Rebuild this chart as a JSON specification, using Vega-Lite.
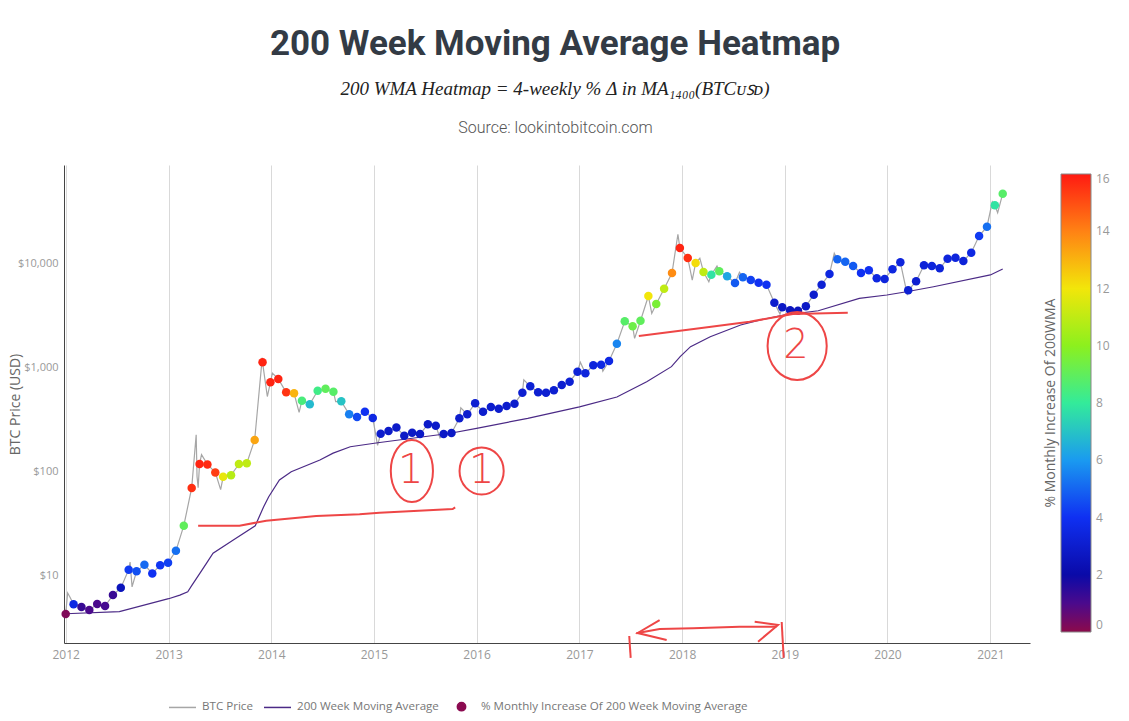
{
  "$schema": "https://vega.github.io/schema/vega-lite/v6.json",
  "width": 966,
  "height": 478,
  "autosize": {"type": "none"},
  "padding": {"left": 64, "top": 165, "right": 99, "bottom": 78},
  "background": "#ffffff",
  "title": {
    "text": "200 Week Moving Average Heatmap",
    "subtitle": "200 WMA Heatmap = 4-weekly % Δ in MA₁₄₀₀(BTCᴜꜱᴅ)",
    "anchor": "middle",
    "frame": "group",
    "dx": 8,
    "font": "Roboto",
    "fontSize": 35,
    "fontWeight": "bold",
    "color": "#333b45",
    "subtitleFont": "Liberation Serif",
    "subtitleFontSize": 19,
    "subtitleFontStyle": "italic",
    "subtitleColor": "#222222",
    "subtitlePadding": 18,
    "offset": 20
  },
  "config": {
    "view": {"stroke": null},
    "font": "Open Sans",
    "axis": {"labelFont": "Open Sans", "titleFont": "Open Sans"},
    "legend": {"labelFont": "Open Sans", "titleFont": "Open Sans"}
  },
  "resolve": {"axis": {"x": "independent", "y": "independent"}},
  "datasets": {
    "points": [
      {"date":"2012-01-01","price":4.28,"pct":0.2},
      {"date":"2012-01-29","price":5.30,"pct":3.6},
      {"date":"2012-02-26","price":4.99,"pct":1.3},
      {"date":"2012-03-25","price":4.67,"pct":1.0},
      {"date":"2012-04-22","price":5.34,"pct":1.0},
      {"date":"2012-05-20","price":5.10,"pct":1.1},
      {"date":"2012-06-17","price":6.51,"pct":1.3},
      {"date":"2012-07-15","price":7.65,"pct":2.5},
      {"date":"2012-08-12","price":11.4,"pct":4.2},
      {"date":"2012-09-09","price":11.0,"pct":4.6},
      {"date":"2012-10-07","price":12.7,"pct":5.1},
      {"date":"2012-11-04","price":10.5,"pct":4.0},
      {"date":"2012-12-02","price":12.6,"pct":4.1},
      {"date":"2012-12-30","price":13.3,"pct":4.3},
      {"date":"2013-01-27","price":17.3,"pct":5.2},
      {"date":"2013-02-24","price":30.2,"pct":9.0},
      {"date":"2013-03-24","price":69.5,"pct":15.6},
      {"date":"2013-04-21","price":118,"pct":15.8},
      {"date":"2013-05-19","price":117,"pct":15.7},
      {"date":"2013-06-16","price":98,"pct":15.3},
      {"date":"2013-07-14","price":89,"pct":11.8},
      {"date":"2013-08-11","price":92,"pct":10.8},
      {"date":"2013-09-08","price":118,"pct":11.0},
      {"date":"2013-10-06","price":120,"pct":11.0},
      {"date":"2013-11-03","price":201,"pct":13.3},
      {"date":"2013-12-01","price":1119,"pct":15.8},
      {"date":"2013-12-29","price":719,"pct":15.8},
      {"date":"2014-01-26","price":774,"pct":15.8},
      {"date":"2014-02-23","price":576,"pct":15.5},
      {"date":"2014-03-23","price":564,"pct":13.0},
      {"date":"2014-04-20","price":479,"pct":8.5},
      {"date":"2014-05-18","price":442,"pct":6.8},
      {"date":"2014-06-15","price":597,"pct":8.3},
      {"date":"2014-07-13","price":624,"pct":9.0},
      {"date":"2014-08-10","price":584,"pct":8.8},
      {"date":"2014-09-07","price":472,"pct":7.0},
      {"date":"2014-10-05","price":354,"pct":5.5},
      {"date":"2014-11-02","price":334,"pct":4.5},
      {"date":"2014-11-30","price":375,"pct":4.0},
      {"date":"2014-12-28","price":327,"pct":3.6},
      {"date":"2015-01-25","price":231,"pct":3.0},
      {"date":"2015-02-22","price":245,"pct":2.9},
      {"date":"2015-03-22","price":264,"pct":2.9},
      {"date":"2015-04-19","price":221,"pct":2.8},
      {"date":"2015-05-17","price":236,"pct":2.8},
      {"date":"2015-06-14","price":229,"pct":2.8},
      {"date":"2015-07-12","price":284,"pct":2.9},
      {"date":"2015-08-09","price":275,"pct":2.9},
      {"date":"2015-09-06","price":229,"pct":2.8},
      {"date":"2015-10-04","price":234,"pct":2.8},
      {"date":"2015-11-01","price":324,"pct":3.0},
      {"date":"2015-11-29","price":354,"pct":3.0},
      {"date":"2015-12-27","price":452,"pct":3.1},
      {"date":"2016-01-24","price":375,"pct":3.0},
      {"date":"2016-02-21","price":417,"pct":3.0},
      {"date":"2016-03-20","price":401,"pct":3.0},
      {"date":"2016-04-17","price":426,"pct":3.0},
      {"date":"2016-05-15","price":448,"pct":3.0},
      {"date":"2016-06-12","price":571,"pct":3.1},
      {"date":"2016-07-10","price":658,"pct":3.2},
      {"date":"2016-08-07","price":576,"pct":3.1},
      {"date":"2016-09-04","price":571,"pct":3.1},
      {"date":"2016-10-02","price":603,"pct":3.1},
      {"date":"2016-10-30","price":677,"pct":3.1},
      {"date":"2016-11-27","price":729,"pct":3.2},
      {"date":"2016-12-25","price":909,"pct":3.3},
      {"date":"2017-01-22","price":877,"pct":3.4},
      {"date":"2017-02-19","price":1048,"pct":3.4},
      {"date":"2017-03-19","price":1062,"pct":3.6},
      {"date":"2017-04-16","price":1152,"pct":3.6},
      {"date":"2017-05-14","price":1690,"pct":5.6},
      {"date":"2017-06-11","price":2772,"pct":8.8},
      {"date":"2017-07-09","price":2483,"pct":9.3},
      {"date":"2017-08-06","price":2810,"pct":9.0},
      {"date":"2017-09-03","price":4852,"pct":12.0},
      {"date":"2017-10-01","price":4064,"pct":9.6},
      {"date":"2017-10-29","price":5702,"pct":11.0},
      {"date":"2017-11-26","price":8070,"pct":13.8},
      {"date":"2017-12-24","price":14030,"pct":15.8},
      {"date":"2018-01-21","price":11250,"pct":15.6},
      {"date":"2018-02-18","price":10070,"pct":12.2},
      {"date":"2018-03-18","price":8250,"pct":11.0},
      {"date":"2018-04-15","price":7770,"pct":7.8},
      {"date":"2018-05-13","price":8380,"pct":9.0},
      {"date":"2018-06-10","price":7500,"pct":6.3},
      {"date":"2018-07-08","price":6470,"pct":4.8},
      {"date":"2018-08-05","price":7340,"pct":5.0},
      {"date":"2018-09-02","price":6910,"pct":4.3},
      {"date":"2018-09-30","price":6510,"pct":4.0},
      {"date":"2018-10-28","price":6230,"pct":4.0},
      {"date":"2018-11-25","price":4185,"pct":3.0},
      {"date":"2018-12-23","price":3780,"pct":2.8},
      {"date":"2019-01-20","price":3536,"pct":2.6},
      {"date":"2019-02-17","price":3505,"pct":2.6},
      {"date":"2019-03-17","price":3864,"pct":2.8},
      {"date":"2019-04-14","price":4994,"pct":3.0},
      {"date":"2019-05-12","price":6230,"pct":3.2},
      {"date":"2019-06-09","price":7890,"pct":3.5},
      {"date":"2019-07-07","price":10930,"pct":5.0},
      {"date":"2019-08-04","price":10360,"pct":5.0},
      {"date":"2019-09-01","price":9420,"pct":4.8},
      {"date":"2019-09-29","price":8070,"pct":4.0},
      {"date":"2019-10-27","price":8570,"pct":4.0},
      {"date":"2019-11-24","price":7180,"pct":3.5},
      {"date":"2019-12-22","price":7070,"pct":3.4},
      {"date":"2020-01-19","price":8750,"pct":3.5},
      {"date":"2020-02-16","price":10220,"pct":3.4},
      {"date":"2020-03-15","price":5505,"pct":3.2},
      {"date":"2020-04-12","price":6715,"pct":3.1},
      {"date":"2020-05-10","price":9570,"pct":3.3},
      {"date":"2020-06-07","price":9420,"pct":3.4},
      {"date":"2020-07-05","price":8950,"pct":3.3},
      {"date":"2020-08-02","price":11070,"pct":3.4},
      {"date":"2020-08-30","price":11320,"pct":3.4},
      {"date":"2020-09-27","price":10520,"pct":3.3},
      {"date":"2020-10-25","price":12640,"pct":3.6},
      {"date":"2020-11-22","price":18290,"pct":4.2},
      {"date":"2020-12-20","price":22480,"pct":5.2},
      {"date":"2021-01-17","price":36080,"pct":7.8},
      {"date":"2021-02-14","price":46630,"pct":8.8}
    ],
    "lines": [
      {"series":"BTC Price","date":"2012-01-01","price":4.3},
      {"series":"BTC Price","date":"2012-01-08","price":6.8},
      {"series":"BTC Price","date":"2012-01-15","price":6.3},
      {"series":"BTC Price","date":"2012-01-29","price":5.3},
      {"series":"BTC Price","date":"2012-02-26","price":5.0},
      {"series":"BTC Price","date":"2012-03-25","price":4.7},
      {"series":"BTC Price","date":"2012-04-22","price":5.3},
      {"series":"BTC Price","date":"2012-05-20","price":5.1},
      {"series":"BTC Price","date":"2012-06-17","price":6.5},
      {"series":"BTC Price","date":"2012-07-15","price":7.6},
      {"series":"BTC Price","date":"2012-08-12","price":11.4},
      {"series":"BTC Price","date":"2012-08-17","price":13.5},
      {"series":"BTC Price","date":"2012-08-24","price":7.8},
      {"series":"BTC Price","date":"2012-09-09","price":11.0},
      {"series":"BTC Price","date":"2012-10-07","price":12.7},
      {"series":"BTC Price","date":"2012-11-04","price":10.5},
      {"series":"BTC Price","date":"2012-12-02","price":12.6},
      {"series":"BTC Price","date":"2012-12-30","price":13.3},
      {"series":"BTC Price","date":"2013-01-27","price":17.3},
      {"series":"BTC Price","date":"2013-02-24","price":30.2},
      {"series":"BTC Price","date":"2013-03-24","price":69.5},
      {"series":"BTC Price","date":"2013-04-09","price":225},
      {"series":"BTC Price","date":"2013-04-12","price":90},
      {"series":"BTC Price","date":"2013-04-16","price":70},
      {"series":"BTC Price","date":"2013-04-21","price":118},
      {"series":"BTC Price","date":"2013-04-28","price":145},
      {"series":"BTC Price","date":"2013-05-19","price":117},
      {"series":"BTC Price","date":"2013-06-16","price":98},
      {"series":"BTC Price","date":"2013-07-05","price":67},
      {"series":"BTC Price","date":"2013-07-14","price":89},
      {"series":"BTC Price","date":"2013-08-11","price":92},
      {"series":"BTC Price","date":"2013-09-08","price":118},
      {"series":"BTC Price","date":"2013-10-06","price":120},
      {"series":"BTC Price","date":"2013-11-03","price":201},
      {"series":"BTC Price","date":"2013-11-30","price":1240},
      {"series":"BTC Price","date":"2013-12-01","price":1119},
      {"series":"BTC Price","date":"2013-12-18","price":525},
      {"series":"BTC Price","date":"2013-12-29","price":719},
      {"series":"BTC Price","date":"2014-01-05","price":880},
      {"series":"BTC Price","date":"2014-01-26","price":774},
      {"series":"BTC Price","date":"2014-02-23","price":576},
      {"series":"BTC Price","date":"2014-03-23","price":564},
      {"series":"BTC Price","date":"2014-04-10","price":370},
      {"series":"BTC Price","date":"2014-04-20","price":479},
      {"series":"BTC Price","date":"2014-05-18","price":442},
      {"series":"BTC Price","date":"2014-06-15","price":597},
      {"series":"BTC Price","date":"2014-07-13","price":624},
      {"series":"BTC Price","date":"2014-08-10","price":584},
      {"series":"BTC Price","date":"2014-08-18","price":470},
      {"series":"BTC Price","date":"2014-09-07","price":472},
      {"series":"BTC Price","date":"2014-10-05","price":354},
      {"series":"BTC Price","date":"2014-11-02","price":334},
      {"series":"BTC Price","date":"2014-11-30","price":375},
      {"series":"BTC Price","date":"2014-12-28","price":327},
      {"series":"BTC Price","date":"2015-01-14","price":178},
      {"series":"BTC Price","date":"2015-01-25","price":231},
      {"series":"BTC Price","date":"2015-02-22","price":245},
      {"series":"BTC Price","date":"2015-03-22","price":264},
      {"series":"BTC Price","date":"2015-04-19","price":221},
      {"series":"BTC Price","date":"2015-05-17","price":236},
      {"series":"BTC Price","date":"2015-06-14","price":229},
      {"series":"BTC Price","date":"2015-07-12","price":284},
      {"series":"BTC Price","date":"2015-08-09","price":275},
      {"series":"BTC Price","date":"2015-08-24","price":210},
      {"series":"BTC Price","date":"2015-09-06","price":229},
      {"series":"BTC Price","date":"2015-10-04","price":234},
      {"series":"BTC Price","date":"2015-11-01","price":324},
      {"series":"BTC Price","date":"2015-11-06","price":410},
      {"series":"BTC Price","date":"2015-11-29","price":354},
      {"series":"BTC Price","date":"2015-12-27","price":452},
      {"series":"BTC Price","date":"2016-01-24","price":375},
      {"series":"BTC Price","date":"2016-02-21","price":417},
      {"series":"BTC Price","date":"2016-03-20","price":401},
      {"series":"BTC Price","date":"2016-04-17","price":426},
      {"series":"BTC Price","date":"2016-05-15","price":448},
      {"series":"BTC Price","date":"2016-06-12","price":571},
      {"series":"BTC Price","date":"2016-06-17","price":760},
      {"series":"BTC Price","date":"2016-07-10","price":658},
      {"series":"BTC Price","date":"2016-08-07","price":576},
      {"series":"BTC Price","date":"2016-09-04","price":571},
      {"series":"BTC Price","date":"2016-10-02","price":603},
      {"series":"BTC Price","date":"2016-10-30","price":677},
      {"series":"BTC Price","date":"2016-11-27","price":729},
      {"series":"BTC Price","date":"2016-12-25","price":909},
      {"series":"BTC Price","date":"2017-01-04","price":1120},
      {"series":"BTC Price","date":"2017-01-22","price":877},
      {"series":"BTC Price","date":"2017-02-19","price":1048},
      {"series":"BTC Price","date":"2017-03-19","price":1062},
      {"series":"BTC Price","date":"2017-03-25","price":920},
      {"series":"BTC Price","date":"2017-04-16","price":1152},
      {"series":"BTC Price","date":"2017-05-14","price":1690},
      {"series":"BTC Price","date":"2017-06-11","price":2772},
      {"series":"BTC Price","date":"2017-07-09","price":2483},
      {"series":"BTC Price","date":"2017-07-16","price":1900},
      {"series":"BTC Price","date":"2017-08-06","price":2810},
      {"series":"BTC Price","date":"2017-09-03","price":4852},
      {"series":"BTC Price","date":"2017-09-15","price":3300},
      {"series":"BTC Price","date":"2017-10-01","price":4064},
      {"series":"BTC Price","date":"2017-10-29","price":5702},
      {"series":"BTC Price","date":"2017-11-26","price":8070},
      {"series":"BTC Price","date":"2017-12-17","price":19000},
      {"series":"BTC Price","date":"2017-12-24","price":14030},
      {"series":"BTC Price","date":"2018-01-21","price":11250},
      {"series":"BTC Price","date":"2018-02-06","price":6900},
      {"series":"BTC Price","date":"2018-02-18","price":10070},
      {"series":"BTC Price","date":"2018-03-05","price":11200},
      {"series":"BTC Price","date":"2018-03-18","price":8250},
      {"series":"BTC Price","date":"2018-04-06","price":6640},
      {"series":"BTC Price","date":"2018-04-15","price":7770},
      {"series":"BTC Price","date":"2018-05-05","price":9400},
      {"series":"BTC Price","date":"2018-05-13","price":8380},
      {"series":"BTC Price","date":"2018-06-10","price":7500},
      {"series":"BTC Price","date":"2018-07-08","price":6470},
      {"series":"BTC Price","date":"2018-07-24","price":8200},
      {"series":"BTC Price","date":"2018-08-05","price":7340},
      {"series":"BTC Price","date":"2018-09-02","price":6910},
      {"series":"BTC Price","date":"2018-09-30","price":6510},
      {"series":"BTC Price","date":"2018-10-28","price":6230},
      {"series":"BTC Price","date":"2018-11-25","price":4185},
      {"series":"BTC Price","date":"2018-12-15","price":3250},
      {"series":"BTC Price","date":"2018-12-23","price":3780},
      {"series":"BTC Price","date":"2019-01-20","price":3536},
      {"series":"BTC Price","date":"2019-02-17","price":3505},
      {"series":"BTC Price","date":"2019-03-17","price":3864},
      {"series":"BTC Price","date":"2019-04-14","price":4994},
      {"series":"BTC Price","date":"2019-05-12","price":6230},
      {"series":"BTC Price","date":"2019-06-09","price":7890},
      {"series":"BTC Price","date":"2019-06-26","price":12480},
      {"series":"BTC Price","date":"2019-07-07","price":10930},
      {"series":"BTC Price","date":"2019-08-04","price":10360},
      {"series":"BTC Price","date":"2019-09-01","price":9420},
      {"series":"BTC Price","date":"2019-09-29","price":8070},
      {"series":"BTC Price","date":"2019-10-27","price":8570},
      {"series":"BTC Price","date":"2019-11-24","price":7180},
      {"series":"BTC Price","date":"2019-12-22","price":7070},
      {"series":"BTC Price","date":"2020-01-19","price":8750},
      {"series":"BTC Price","date":"2020-02-16","price":10220},
      {"series":"BTC Price","date":"2020-03-12","price":4950},
      {"series":"BTC Price","date":"2020-03-15","price":5505},
      {"series":"BTC Price","date":"2020-04-12","price":6715},
      {"series":"BTC Price","date":"2020-05-10","price":9570},
      {"series":"BTC Price","date":"2020-06-07","price":9420},
      {"series":"BTC Price","date":"2020-07-05","price":8950},
      {"series":"BTC Price","date":"2020-08-02","price":11070},
      {"series":"BTC Price","date":"2020-08-30","price":11320},
      {"series":"BTC Price","date":"2020-09-27","price":10520},
      {"series":"BTC Price","date":"2020-10-25","price":12640},
      {"series":"BTC Price","date":"2020-11-22","price":18290},
      {"series":"BTC Price","date":"2020-12-20","price":22480},
      {"series":"BTC Price","date":"2021-01-08","price":39000},
      {"series":"BTC Price","date":"2021-01-17","price":36080},
      {"series":"BTC Price","date":"2021-01-27","price":30600},
      {"series":"BTC Price","date":"2021-02-14","price":46630},
      {"series":"BTC Price","date":"2021-02-17","price":48600},
      {"series":"200 Week Moving Average","date":"2012-01-01","price":4.3},
      {"series":"200 Week Moving Average","date":"2012-07-10","price":4.5},
      {"series":"200 Week Moving Average","date":"2013-01-01","price":6.0},
      {"series":"200 Week Moving Average","date":"2013-02-10","price":6.5},
      {"series":"200 Week Moving Average","date":"2013-03-10","price":7.0},
      {"series":"200 Week Moving Average","date":"2013-03-24","price":8.0},
      {"series":"200 Week Moving Average","date":"2013-04-22","price":10.5},
      {"series":"200 Week Moving Average","date":"2013-05-16","price":13.2},
      {"series":"200 Week Moving Average","date":"2013-06-08","price":16.4},
      {"series":"200 Week Moving Average","date":"2013-08-19","price":22.0},
      {"series":"200 Week Moving Average","date":"2013-11-05","price":30.1},
      {"series":"200 Week Moving Average","date":"2013-12-05","price":45.9},
      {"series":"200 Week Moving Average","date":"2013-12-23","price":57.3},
      {"series":"200 Week Moving Average","date":"2014-01-30","price":82.8},
      {"series":"200 Week Moving Average","date":"2014-03-13","price":99.5},
      {"series":"200 Week Moving Average","date":"2014-06-23","price":129},
      {"series":"200 Week Moving Average","date":"2014-08-09","price":150},
      {"series":"200 Week Moving Average","date":"2014-10-09","price":173},
      {"series":"200 Week Moving Average","date":"2015-01-15","price":189},
      {"series":"200 Week Moving Average","date":"2015-09-30","price":233},
      {"series":"200 Week Moving Average","date":"2016-01-01","price":260},
      {"series":"200 Week Moving Average","date":"2016-07-01","price":324},
      {"series":"200 Week Moving Average","date":"2017-01-01","price":417},
      {"series":"200 Week Moving Average","date":"2017-05-14","price":520},
      {"series":"200 Week Moving Average","date":"2017-08-28","price":729},
      {"series":"200 Week Moving Average","date":"2017-11-24","price":1017},
      {"series":"200 Week Moving Average","date":"2017-12-25","price":1268},
      {"series":"200 Week Moving Average","date":"2018-01-31","price":1582},
      {"series":"200 Week Moving Average","date":"2018-04-11","price":1972},
      {"series":"200 Week Moving Average","date":"2018-07-28","price":2553},
      {"series":"200 Week Moving Average","date":"2018-10-03","price":2850},
      {"series":"200 Week Moving Average","date":"2018-12-28","price":3183},
      {"series":"200 Week Moving Average","date":"2019-04-30","price":3500},
      {"series":"200 Week Moving Average","date":"2019-09-23","price":4600},
      {"series":"200 Week Moving Average","date":"2019-12-30","price":4958},
      {"series":"200 Week Moving Average","date":"2020-03-09","price":5333},
      {"series":"200 Week Moving Average","date":"2020-06-13","price":5957},
      {"series":"200 Week Moving Average","date":"2021-01-01","price":7727},
      {"series":"200 Week Moving Average","date":"2021-02-14","price":8800}
    ],
    "redlines": [
      {"seg":"A","date":"2013-04-16","price":30.1},
      {"seg":"A","date":"2013-09-10","price":30.1},
      {"seg":"A","date":"2013-12-14","price":33.7},
      {"seg":"A","date":"2014-06-10","price":37.4},
      {"seg":"A","date":"2014-11-11","price":38.8},
      {"seg":"A","date":"2015-01-21","price":40.2},
      {"seg":"A","date":"2015-10-08","price":43.6},
      {"seg":"A","date":"2015-10-17","price":45.3},
      {"seg":"B","date":"2017-07-31","price":2004},
      {"seg":"B","date":"2018-03-04","price":2375},
      {"seg":"B","date":"2018-08-29","price":2748},
      {"seg":"B","date":"2019-01-30","price":3259},
      {"seg":"B","date":"2019-08-13","price":3350},
      {"seg":"C","date":"2017-07-22","price":2.79},
      {"seg":"C","date":"2017-10-13","price":3.07},
      {"seg":"C","date":"2018-02-09","price":3.12},
      {"seg":"C","date":"2018-07-24","price":3.23},
      {"seg":"C","date":"2018-12-02","price":3.23},
      {"seg":"D","date":"2017-10-13","price":3.74},
      {"seg":"D","date":"2017-07-27","price":2.81},
      {"seg":"D","date":"2017-11-07","price":2.41},
      {"seg":"E","date":"2018-09-16","price":3.60},
      {"seg":"E","date":"2018-12-08","price":3.35},
      {"seg":"E","date":"2018-09-28","price":2.32},
      {"seg":"F","date":"2017-06-27","price":2.63},
      {"seg":"F","date":"2017-07-02","price":1.62},
      {"seg":"G","date":"2018-12-21","price":3.58},
      {"seg":"G","date":"2018-12-28","price":1.62}
    ],
    "circles": [
      {"id":"c1","date":"2015-05-16","price":101},
      {"id":"c2","date":"2016-01-19","price":101},
      {"id":"c3","date":"2019-02-14","price":1607}
    ],
    "digits": [
      {"label":"1","date":"2015-05-12","price":101},
      {"label":"1","date":"2016-01-19","price":101},
      {"label":"2","date":"2019-02-10","price":1607}
    ]
  },
  "layer": [
    {
      "data": {"name": "lines"},
      "mark": {"type": "line", "strokeWidth": 1.2},
      "encoding": {
        "x": {"field": "date", "type": "temporal",
          "scale": {"type": "utc", "nice": false, "domain": [{"year": 2011, "month": 12, "date": 26, "utc": true}, {"year": 2021, "month": 5, "date": 22, "utc": true}]},
          "axis": {"orient": "bottom", "title": null, "format": "%Y", "formatType": "utc",
            "values": [{"year":2012,"month":1,"date":1,"utc":true},{"year":2013,"month":1,"date":1,"utc":true},{"year":2014,"month":1,"date":1,"utc":true},{"year":2015,"month":1,"date":1,"utc":true},{"year":2016,"month":1,"date":1,"utc":true},{"year":2017,"month":1,"date":1,"utc":true},{"year":2018,"month":1,"date":1,"utc":true},{"year":2019,"month":1,"date":1,"utc":true},{"year":2020,"month":1,"date":1,"utc":true},{"year":2021,"month":1,"date":1,"utc":true}],
            "ticks": false, "grid": true, "gridColor": "#d9d9d9", "gridWidth": 1,
            "domain": true, "domainColor": "#444444", "domainWidth": 1,
            "labelColor": "#999999", "labelFontSize": 12, "labelPadding": 6}},
        "y": {"field": "price", "type": "quantitative",
          "scale": {"type": "log", "nice": false, "domain": [2.252, 87960]},
          "axis": {"orient": "left", "title": "BTC Price (USD)", "values": [10, 100, 1000, 10000], "format": "$,.0f",
            "ticks": false, "grid": false, "domain": true, "domainColor": "#444444", "domainWidth": 1,
            "labelColor": "#999999", "labelFontSize": 11, "labelPadding": 6, "labelOverlap": false,
            "titleColor": "#666666", "titleFontSize": 14, "titleFontWeight": "normal",
            "titleX": -49, "titleY": 239, "titleAngle": 270, "titleBaseline": "middle", "titleAlign": "center"}},
        "stroke": {"field": "series", "type": "nominal",
          "scale": {"domain": ["BTC Price", "200 Week Moving Average", "% Monthly Increase Of 200 Week Moving Average"], "range": ["#a6a6a6", "#4b2a86", "#8b0a50"]},
          "legend": {"orient": "none", "legendX": 104, "legendY": 527, "direction": "horizontal", "title": null,
            "symbolType": "stroke", "symbolSize": 729, "symbolStrokeWidth": 1.5,
            "labelFontSize": 11.6, "labelColor": "#777777", "labelOffset": 5, "columnPadding": 8, "labelLimit": 500,
            "encode": {"symbols": {"update": {
              "shape": {"signal": "datum.value === '% Monthly Increase Of 200 Week Moving Average' ? 'circle' : 'stroke'"},
              "size": {"signal": "datum.value === '% Monthly Increase Of 200 Week Moving Average' ? 70 : 729"},
              "fill": {"signal": "datum.value === '% Monthly Increase Of 200 Week Moving Average' ? '#8b0a50' : 'transparent'"}}}}}},
        "detail": {"field": "series"}
      }
    },
    {
      "data": {"name": "points"},
      "mark": {"type": "circle", "size": 72, "opacity": 1},
      "encoding": {
        "x": {"field": "date", "type": "temporal",
          "scale": {"type": "utc", "nice": false, "domain": [{"year": 2011, "month": 12, "date": 26, "utc": true}, {"year": 2021, "month": 5, "date": 22, "utc": true}]},
          "axis": {"orient": "top", "title": "Source: lookintobitcoin.com", "labels": false, "ticks": false, "domain": false, "grid": false,
            "titleFont": "Roboto", "titleFontWeight": 300, "titleFontSize": 16, "titleColor": "#555555", "titlePadding": 30, "titleX": 491}},
        "y": {"field": "price", "type": "quantitative",
          "scale": {"type": "log", "nice": false, "domain": [2.252, 87960]}, "axis": null},
        "color": {"field": "pct", "type": "quantitative",
          "scale": {"domain": [0, 1, 2, 4, 6, 8, 10, 12, 14, 16], "range": ["#8c0a4b", "#4b0a8c", "#0a0aa8", "#0f30f2", "#1a9af0", "#33eb9a", "#8cf01e", "#f2e60a", "#ff8214", "#ff1a12"], "interpolate": "rgb"},
          "legend": {"orient": "none", "legendX": 980, "legendY": 9, "direction": "vertical",
            "gradientLength": 458, "gradientThickness": 30, "values": [0, 2, 4, 6, 8, 10, 12, 14, 16],
            "title": "% Monthly Increase Of 200WMA", "titleOrient": "left", "titleAngle": 270, "titleAnchor": "middle", "titleLimit": 600,
            "titleFontSize": 14, "titleFontWeight": "normal", "titleColor": "#666666", "titlePadding": 2,
            "labelFontSize": 12, "labelColor": "#999999", "labelOffset": 5, "labelBaseline": "middle",
            "gradientStrokeColor": "#888888", "gradientStrokeWidth": 1}}
      }
    },
    {
      "data": {"name": "redlines"},
      "mark": {"type": "line", "color": "#ee4646", "strokeWidth": 2},
      "encoding": {
        "x": {"field": "date", "type": "temporal",
          "scale": {"type": "utc", "nice": false, "domain": [{"year": 2011, "month": 12, "date": 26, "utc": true}, {"year": 2021, "month": 5, "date": 22, "utc": true}]}, "axis": null},
        "y": {"field": "price", "type": "quantitative",
          "scale": {"type": "log", "nice": false, "domain": [2.252, 87960]}, "axis": null},
        "detail": {"field": "seg"},
        "order": {"value": null}
      }
    },
    {
      "data": {"name": "circles"},
      "transform": [{"filter": "datum.id === 'c1'"}],
      "mark": {"type": "point", "filled": false, "color": "#ee4646", "strokeWidth": 2, "opacity": 1,
        "shape": "M0,-1A0.68,1,0,1,1,0,1A0.68,1,0,1,1,0,-1Z", "size": 3844},
      "encoding": {
        "x": {"field": "date", "type": "temporal",
          "scale": {"type": "utc", "nice": false, "domain": [{"year": 2011, "month": 12, "date": 26, "utc": true}, {"year": 2021, "month": 5, "date": 22, "utc": true}]}, "axis": null},
        "y": {"field": "price", "type": "quantitative",
          "scale": {"type": "log", "nice": false, "domain": [2.252, 87960]}, "axis": null}
      }
    },
    {
      "data": {"name": "circles"},
      "transform": [{"filter": "datum.id === 'c2'"}],
      "mark": {"type": "point", "filled": false, "color": "#ee4646", "strokeWidth": 2, "opacity": 1,
        "shape": "M0,-1A0.94,1,0,1,1,0,1A0.94,1,0,1,1,0,-1Z", "size": 2209},
      "encoding": {
        "x": {"field": "date", "type": "temporal",
          "scale": {"type": "utc", "nice": false, "domain": [{"year": 2011, "month": 12, "date": 26, "utc": true}, {"year": 2021, "month": 5, "date": 22, "utc": true}]}, "axis": null},
        "y": {"field": "price", "type": "quantitative",
          "scale": {"type": "log", "nice": false, "domain": [2.252, 87960]}, "axis": null}
      }
    },
    {
      "data": {"name": "circles"},
      "transform": [{"filter": "datum.id === 'c3'"}],
      "mark": {"type": "point", "filled": false, "color": "#ee4646", "strokeWidth": 2, "opacity": 1,
        "shape": "M0,-1A0.87,1,0,1,1,0,1A0.87,1,0,1,1,0,-1Z", "size": 4624},
      "encoding": {
        "x": {"field": "date", "type": "temporal",
          "scale": {"type": "utc", "nice": false, "domain": [{"year": 2011, "month": 12, "date": 26, "utc": true}, {"year": 2021, "month": 5, "date": 22, "utc": true}]}, "axis": null},
        "y": {"field": "price", "type": "quantitative",
          "scale": {"type": "log", "nice": false, "domain": [2.252, 87960]}, "axis": null}
      }
    },
    {
      "data": {"name": "digits"},
      "mark": {"type": "text", "font": "DejaVu Sans", "fontWeight": 200, "fontSize": 40, "color": "#ee4646", "align": "center", "baseline": "middle"},
      "encoding": {
        "x": {"field": "date", "type": "temporal",
          "scale": {"type": "utc", "nice": false, "domain": [{"year": 2011, "month": 12, "date": 26, "utc": true}, {"year": 2021, "month": 5, "date": 22, "utc": true}]}, "axis": null},
        "y": {"field": "price", "type": "quantitative",
          "scale": {"type": "log", "nice": false, "domain": [2.252, 87960]}, "axis": null},
        "text": {"field": "label"}
      }
    }
  ]
}
